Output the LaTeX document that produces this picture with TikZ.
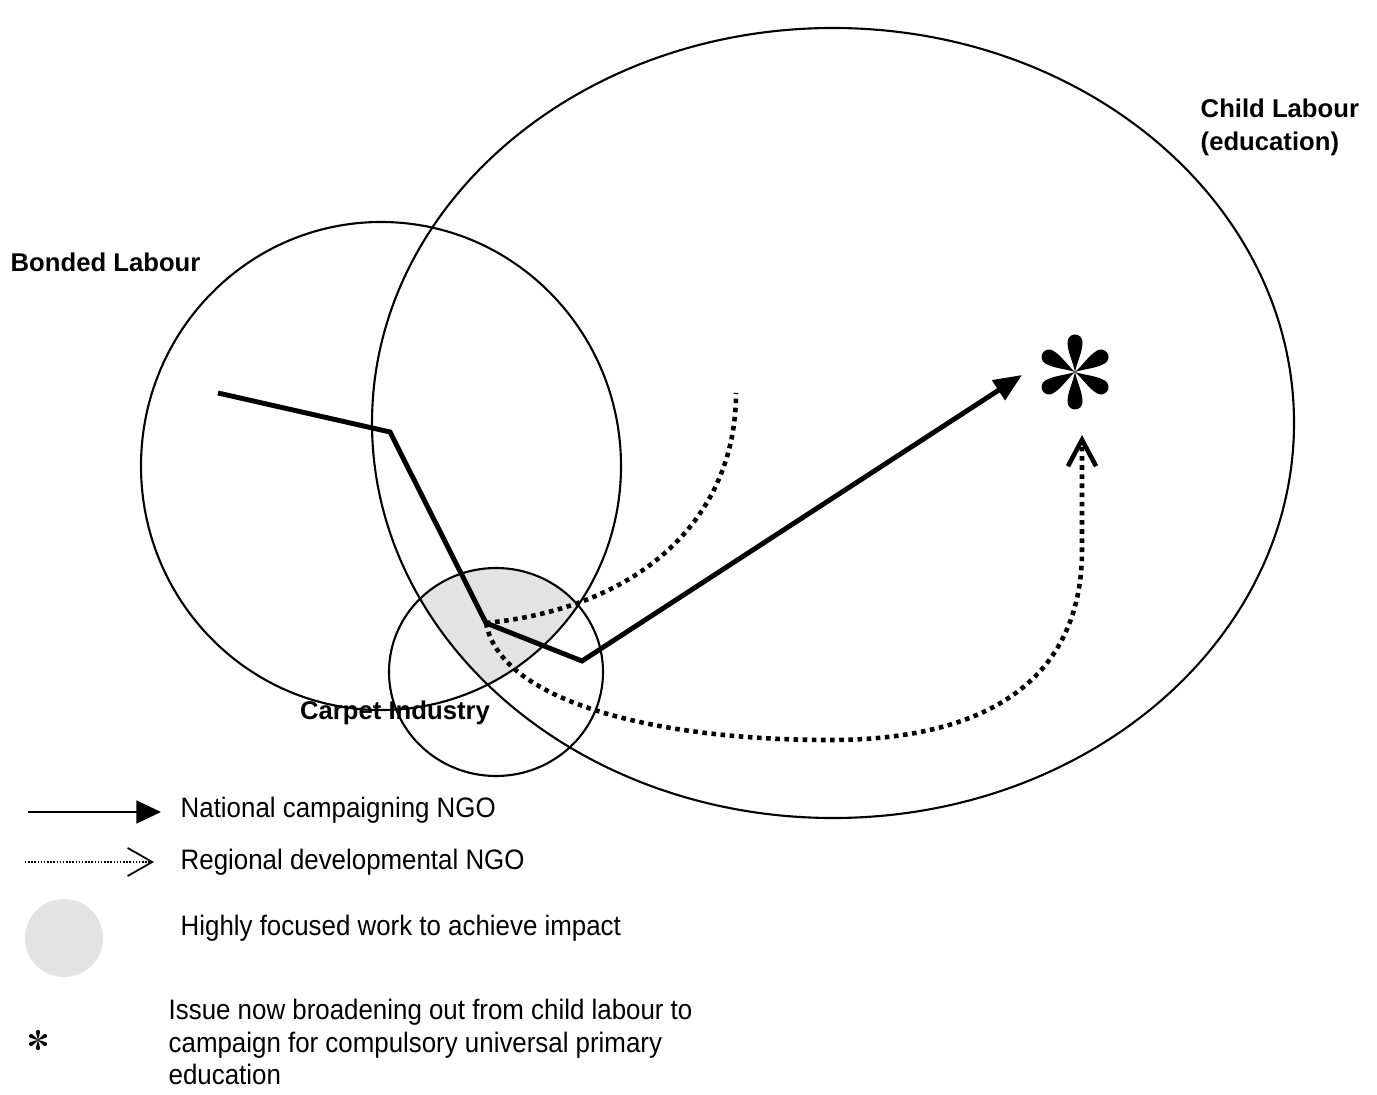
\documentclass[tikz,border=0pt]{standalone}
\usepackage{fontspec}
\setmainfont{Liberation Sans}
\newfontfamily\keyfont[FakeStretch=0.92]{Liberation Sans}
\usetikzlibrary{arrows.meta}

\begin{document}
\begin{tikzpicture}[x=0.01cm,y=-0.01cm,
  area/.style={line width=0.6pt},
  campaign/.style={line width=1.4pt},
  regional/.style={line width=1.3pt,dash pattern=on 1.3pt off 1.3pt},
  issue/.style={font=\bfseries\fontsize{7.3}{9.4}\selectfont,inner sep=0pt,align=left},
  keytext/.style={font=\keyfont\fontsize{8}{9.25}\selectfont,inner sep=0pt,anchor=west,align=left},
  goalstar/.pic={
    \foreach \a in {0,60,...,300}
      \fill[rotate=\a] (0,0) .. controls (-2,10) and (-7.5,20) .. (-7.5,30)
        arc[start angle=180,end angle=0,radius=7.5] .. controls (7.5,20) and (2,10) .. (0,0);
  }]
\useasboundingbox (0,0) rectangle (1377,1095);

% focused work: where the three issues overlap
\begin{scope}
\clip (381,466) ellipse [x radius=240,y radius=244];
\clip (833,423) ellipse [x radius=461,y radius=395];
\fill[black!11] (496,672) ellipse [x radius=107,y radius=104];
\end{scope}

% issue areas
\draw[area] (833,423) ellipse [x radius=461,y radius=395];
\draw[area] (381,466) ellipse [x radius=240,y radius=244];
\draw[area] (496,672) ellipse [x radius=107,y radius=104];

\node[issue,anchor=west] (bonded) at (10,262) {Bonded Labour};
\node[issue,anchor=west] (child) at (1200,127) {Child Labour\\(education)};
\node[issue] (carpet) at (395,713) {Carpet Industry};

% campaign routes
\coordinate (n0) at (218,393);
\coordinate (n1) at (390,432);
\coordinate (n2) at (486,623);
\coordinate (n3) at (582,661);
\coordinate (n4) at (1022,375);
\coordinate (r1) at (736,393);
\coordinate (r2) at (1082,435);

\draw[campaign,-{Triangle[length=8pt,width=6.5pt]}] (n0) -- (n1) -- (n2) -- (n3) -- (n4);
\draw[regional] (n2) .. controls (645,607) and (736,515) .. (r1);
\draw[regional,-{Straight Barb[length=7.5pt,width=8pt]}] (n2) .. controls (500,700) and (650,740) .. (830,740)
  .. controls (1000,740) and (1082,670) .. (1082,550) -- (r2);

\pic (goal) at (1075,372) {goalstar};

% key
\coordinate (k1a) at (28,812);
\coordinate (k1b) at (161,812);
\coordinate (k2a) at (25,862);
\coordinate (k2b) at (154,862);
\draw[area,-{Triangle[length=7pt,width=6.5pt]}] (k1a) -- (k1b);
\draw[line width=0.4pt,dash pattern=on 0.4pt off 0.5pt,-{Straight Barb[length=7pt,width=8pt,line width=0.5pt]}] (k2a) -- (k2b);
\fill[black!11] (64,938) ellipse [x radius=39,y radius=39];
\pic[scale=0.27] (star) at (38,1040) {goalstar};

\node[keytext] (national) at (180,810) {National campaigning NGO};
\node[keytext] (regional) at (180,862) {Regional developmental NGO};
\node[keytext] (focused) at (180,928) {Highly focused work to achieve impact};
\node[keytext] (broaden) at (168,1042) {Issue now broadening out from child labour to\\campaign for compulsory universal primary\\education};
\end{tikzpicture}
\end{document}
